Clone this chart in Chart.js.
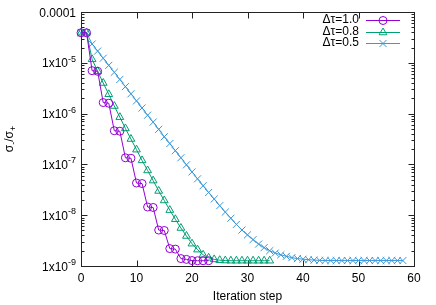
<!DOCTYPE html>
<html>
<head>
<meta charset="utf-8">
<script src="https://cdn.jsdelivr.net/npm/chart.js@4.4.1/dist/chart.umd.min.js"></script>
<style>
  html, body { margin: 0; padding: 0; background: #fff; }
  #wrap { width: 436px; height: 305px; }
</style>
</head>
<body>
<div id="wrap"><canvas id="grafico"></canvas></div>
<script>
const nombres = ['Δτ=1.0', 'Δτ=0.8', 'Δτ=0.5'];
const colores = ['#9400d3', '#009e73', '#3a98d8'];
const marcas = ['circle', 'triangle', 'crossRot'];

// sigma ratio per iteration step (x = index)
const dt10 = [3.9e-5, 3.9e-5, 7.0e-6, 6.8e-6, 1.65e-6, 1.6e-6, 4.6e-7, 4.5e-7, 1.35e-7, 1.32e-7,
  4.3e-8, 4.2e-8, 1.45e-8, 1.42e-8, 5.1e-9, 5.0e-9, 2.2e-9, 2.15e-9, 1.4e-9, 1.35e-9,
  1.28e-9, 1.27e-9, 1.27e-9, 1.27e-9];
const dt08 = [3.9e-5, 3.9e-5, 1.17e-5, 6.8e-6, 4.0e-6, 2.4e-6, 1.41e-6, 8.5e-7, 5.1e-7, 3.16e-7,
  1.95e-7, 1.2e-7, 7.6e-8, 4.8e-8, 3.0e-8, 1.95e-8, 1.26e-8, 8.3e-9, 5.6e-9, 3.9e-9,
  2.75e-9, 2.1e-9, 1.66e-9, 1.45e-9, 1.35e-9, 1.3e-9, 1.28e-9, 1.27e-9, 1.27e-9, 1.27e-9,
  1.27e-9, 1.27e-9, 1.27e-9, 1.27e-9, 1.27e-9];
const dt05 = [3.9e-5, 3.9e-5, 2.34e-5, 1.70e-5, 1.23e-5, 8.9e-6, 6.5e-6, 4.7e-6, 3.4e-6, 2.45e-6,
  1.78e-6, 1.29e-6, 9.3e-7, 6.8e-7, 4.9e-7, 3.5e-7, 2.57e-7, 1.86e-7, 1.35e-7, 9.8e-8,
  7.1e-8, 5.2e-8, 3.8e-8, 2.8e-8, 2.08e-8, 1.54e-8, 1.15e-8, 8.7e-9, 6.6e-9, 5.1e-9,
  4.1e-9, 3.3e-9, 2.7e-9, 2.3e-9, 2.0e-9, 1.8e-9, 1.66e-9, 1.55e-9, 1.46e-9, 1.4e-9,
  1.36e-9, 1.33e-9, 1.31e-9, 1.29e-9, 1.28e-9, 1.28e-9, 1.28e-9, 1.28e-9, 1.28e-9, 1.28e-9,
  1.28e-9, 1.28e-9, 1.28e-9, 1.28e-9, 1.28e-9, 1.28e-9, 1.28e-9, 1.28e-9, 1.28e-9];

const xTicks = [0, 10, 20, 30, 40, 50, 60];
const yTicks = [1e-4, 1e-5, 1e-6, 1e-7, 1e-8, 1e-9];
const yTickBase = ['0.0001', '1x10', '1x10', '1x10', '1x10', '1x10'];
const yTickExp = ['', '-5', '-6', '-7', '-8', '-9'];

const fuente = '"Liberation Sans", Arial, sans-serif';

const series = [dt10, dt08, dt05].map((vals, i) => ({
  label: nombres[i],
  data: vals.map((v, k) => ({ x: k, y: v })),
  borderColor: colores[i],
  backgroundColor: 'rgba(0,0,0,0)',
  borderWidth: 1,
  pointStyle: marcas[i],
  pointRadius: i === 0 ? 4 : (i === 1 ? 4.5 : 5),
  pointBorderWidth: 1,
  pointBorderColor: colores[i],
  pointBackgroundColor: 'rgba(0,0,0,0)',
  tension: 0,
  clip: false
}));

const marco = {
  id: 'marco',
  beforeDatasetsDraw(chart) {
    const ctx = chart.ctx;
    const a = chart.chartArea;
    const xs = chart.scales.x, ys = chart.scales.y;
    const L = Math.round(a.left) + 0.5, R = Math.round(a.right) + 0.5;
    const T = Math.round(a.top) + 0.5, B = Math.round(a.bottom) + 0.5;
    ctx.save();
    ctx.strokeStyle = '#222';
    ctx.lineWidth = 1;
    ctx.strokeRect(L, T, R - L, B - T);

    ctx.beginPath();
    // x ticks bottom and top
    xTicks.forEach(t => {
      const px = Math.round(xs.getPixelForValue(t)) + 0.5;
      ctx.moveTo(px, B); ctx.lineTo(px, B - 6);
      ctx.moveTo(px, T); ctx.lineTo(px, T + 6);
    });
    // y ticks, major and minor, left and right
    for (let d = -9; d < -4; d++) {
      for (let m = 1; m < 10; m++) {
        const v = m * Math.pow(10, d);
        const py = Math.round(ys.getPixelForValue(v)) + 0.5;
        const len = m === 1 ? 6 : 3;
        ctx.moveTo(L, py); ctx.lineTo(L + len, py);
        ctx.moveTo(R, py); ctx.lineTo(R - len, py);
      }
    }
    ctx.stroke();

    ctx.fillStyle = '#000';
    ctx.font = '12px ' + fuente;
    ctx.textAlign = 'center';
    ctx.textBaseline = 'middle';
    xTicks.forEach(t => {
      ctx.fillText(String(t), xs.getPixelForValue(t), B + 12);
    });

    yTicks.forEach((t, i) => {
      const py = ys.getPixelForValue(t);
      const base = yTickBase[i], ex = yTickExp[i];
      ctx.font = '12px ' + fuente;
      const wb = ctx.measureText(base).width;
      ctx.font = '9px ' + fuente;
      const we = ex ? ctx.measureText(ex).width : 0;
      const x0 = a.left - 5 - wb - we;
      ctx.textAlign = 'left';
      ctx.textBaseline = 'alphabetic';
      ctx.font = '12px ' + fuente;
      ctx.fillText(base, x0, py + 4.5);
      if (ex) {
        ctx.font = '9px ' + fuente;
        ctx.fillText(ex, x0 + wb, py - 1);
      }
    });

    // axis titles
    ctx.font = '12px ' + fuente;
    ctx.textAlign = 'center';
    ctx.textBaseline = 'middle';
    ctx.fillText('Iteration step', (a.left + a.right) / 2, 297);

    ctx.translate(13, (a.top + a.bottom) / 2);
    ctx.rotate(-Math.PI / 2);
    const partes = [['σ', 0], ['-', 1], ['/σ', 0], ['+', 1]];
    let w = 0;
    partes.forEach(p => {
      ctx.font = (p[1] ? '9px ' : '12px ') + fuente;
      w += ctx.measureText(p[0]).width;
    });
    let cx = -w / 2;
    ctx.textAlign = 'left';
    ctx.textBaseline = 'alphabetic';
    partes.forEach(p => {
      ctx.font = (p[1] ? '9px ' : '12px ') + fuente;
      ctx.fillText(p[0], cx, p[1] ? 3 : 0);
      cx += ctx.measureText(p[0]).width;
    });
    ctx.restore();
  },
  afterDraw(chart) {
    const ctx = chart.ctx;
    ctx.save();
    ctx.font = '12px ' + fuente;
    ctx.textAlign = 'right';
    ctx.textBaseline = 'middle';
    chart.data.datasets.forEach((ds, i) => {
      const y = 20 + i * 11.5;
      ctx.fillStyle = '#000';
      ctx.fillText(ds.label, 359, y);
      ctx.strokeStyle = ds.borderColor;
      ctx.lineWidth = 1;
      ctx.beginPath();
      ctx.moveTo(366, Math.round(y) + 0.5); ctx.lineTo(400, Math.round(y) + 0.5);
      ctx.stroke();
      ctx.fillStyle = 'rgba(0,0,0,0)';
      Chart.helpers.drawPoint(ctx, {
        pointStyle: ds.pointStyle, radius: ds.pointRadius, rotation: 0, borderWidth: 1
      }, 383, Math.round(y) + 0.5);
    });
    ctx.restore();
  }
};

new Chart(document.getElementById('grafico'), {
  type: 'line',
  data: { datasets: series },
  options: {
    responsive: true,
    maintainAspectRatio: false,
    animation: false,
    layout: { padding: { left: 81, top: 12, right: 22, bottom: 39 } },
    plugins: { legend: { display: false }, tooltip: { enabled: false } },
    scales: {
      x: { type: 'linear', min: 0, max: 60, display: false },
      y: { type: 'logarithmic', min: 1e-9, max: 1e-4, display: false }
    }
  },
  plugins: [marco]
});
</script>
</body>
</html>
